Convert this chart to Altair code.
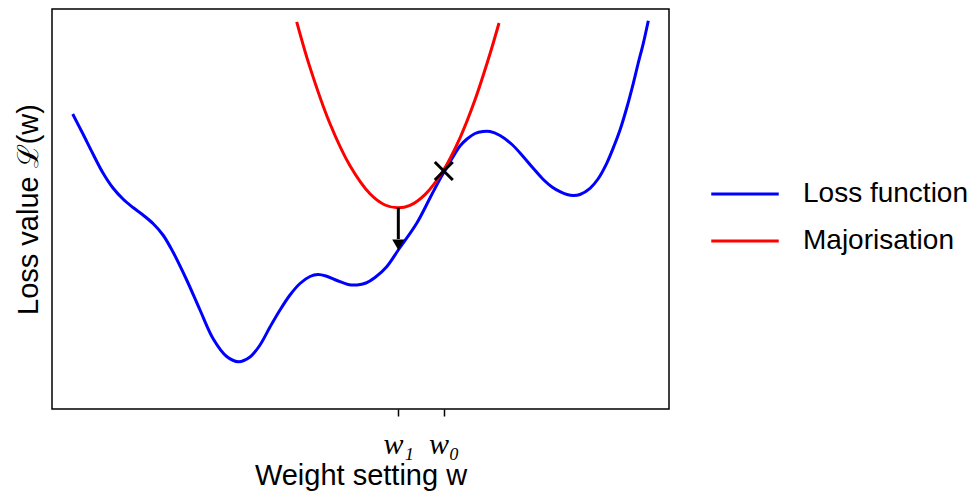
import altair as alt
import pandas as pd

# Loss function (blue)
LOSS_X = [0.3355, 0.5024, 0.6645, 0.8266, 0.9887, 1.1507, 1.3128, 1.4749, 1.6370, 1.7990,
          1.9611, 2.1831, 2.3987, 2.6143, 2.8314, 3.0194, 3.2091, 3.3712, 3.5332, 3.6953,
          3.8574, 4.0194, 4.1815, 4.3112, 4.4408, 4.6191, 4.7974, 4.9433, 5.0891, 5.2350,
          5.4246, 5.6126, 5.9109, 6.1264, 6.2885, 6.3695, 6.4830, 6.6126, 6.7261, 6.8558,
          6.9854, 7.0989, 7.2609, 7.4554, 7.6386, 7.7958, 7.9627, 8.1037, 8.2334, 8.3468,
          8.4489, 8.5575, 8.7196, 8.8493, 8.9903, 9.1086, 9.2058, 9.3193, 9.4214, 9.4976,
          9.5835, 9.6645]
LOSS_Y = [7.375, 6.875, 6.375, 5.90, 5.525, 5.25, 5.0375, 4.85, 4.6375, 4.35,
          3.925, 3.225, 2.475, 1.75, 1.3125, 1.1825, 1.30, 1.60, 2.05, 2.475,
          2.85, 3.1375, 3.3125, 3.3625, 3.325, 3.2125, 3.1125, 3.10, 3.15, 3.2875,
          3.5575, 3.975, 4.6425, 5.275, 5.75, 5.9625, 6.2625, 6.575, 6.75, 6.8875,
          6.9375, 6.9375, 6.8375, 6.6125, 6.3075, 6.025, 5.7375, 5.55, 5.4325, 5.3625,
          5.3375, 5.3625, 5.5175, 5.75, 6.1425, 6.575, 6.975, 7.55, 8.1425, 8.625,
          9.1425, 9.7075]

# Majorisation (red)
MAJ_X = [3.966, 4.181, 4.506, 4.830, 5.154, 5.397, 5.608, 5.802, 6.045, 6.337,
         6.613, 6.856, 7.099, 7.245]
MAJ_Y = [9.68, 8.54, 7.13, 6.08, 5.38, 5.10, 5.03, 5.09, 5.36, 5.95,
         6.78, 7.73, 8.88, 9.65]

SERIES = ["Loss function", "Majorisation"]
COLORS = ["#0000ff", "#ff0000"]

W1 = 5.613
W0 = 6.35
TICK_VALUES = [W1, W0]
TICK_LABELS = ["w\u2081", "w\u2080"]

# arrow from majoriser minimum down to loss at w1
ARROW_Y_START = [5.03]
ARROW_Y_SHAFT_END = [4.25]
ARROW_Y_HEAD = [4.108]
# cross at w0
CROSS_Y = [5.95]

df_lines = pd.DataFrame(
    {"x": LOSS_X + MAJ_X,
     "y": LOSS_Y + MAJ_Y,
     "series": [SERIES[0]] * len(LOSS_X) + [SERIES[1]] * len(MAJ_X)}
)
df_arrow = pd.DataFrame({"x": [W1], "y": ARROW_Y_START, "y2": ARROW_Y_SHAFT_END,
                         "yh": ARROW_Y_HEAD})
df_cross = pd.DataFrame({"x": [W0], "y": CROSS_Y})

SANS = "Liberation Sans"
SERIF = "Liberation Serif"

xscale = alt.Scale(domain=[0, 10], nice=False, zero=False)
yscale = alt.Scale(domain=[0, 10], nice=False, zero=False)

label_expr = (f"datum.value < {(W1 + W0) / 2} ? '{TICK_LABELS[0]}' : '{TICK_LABELS[1]}'")

x_axis = alt.Axis(
    title="Weight setting w", values=TICK_VALUES, labelExpr=label_expr,
    grid=False, domain=False, ticks=True, tickSize=7, tickWidth=1.5,
    tickColor="black", labelFont=SERIF, labelFontStyle="italic",
    labelFontSize=30, labelColor="black", labelBaseline="alphabetic",
    labelPadding=37, labelFlush=False, labelOverlap=False,
    titleFont=SANS, titleFontSize=29, titleFontWeight="normal",
    titleColor="black", titleBaseline="alphabetic", titleY=75,
)
y_axis = alt.Axis(
    title="Loss value \u2112(w)", grid=False, domain=False, ticks=False,
    labels=False, titleFont=SANS, titleFontSize=29, titleFontWeight="normal",
    titleColor="black", titleAngle=270, titleBaseline="alphabetic",
    titleAlign="center", titleX=-15, titleY=200,
)

lines = alt.Chart(df_lines).mark_line(strokeWidth=3, interpolate="catmull-rom").encode(
    x=alt.X("x:Q", scale=xscale, axis=x_axis),
    y=alt.Y("y:Q", scale=yscale, axis=y_axis),
    color=alt.Color(
        "series:N",
        scale=alt.Scale(domain=SERIES, range=COLORS),
        legend=alt.Legend(
            title=None, orient="none", legendX=678, legendY=170,
            symbolType="M-2.5,0L2.5,0", symbolSize=729, symbolStrokeWidth=3,
            labelFont=SANS, labelFontSize=28, labelColor="black",
            labelOffset=43, labelLimit=0, rowPadding=18, padding=0,
        ),
    ),
)

shaft = alt.Chart(df_arrow).mark_rule(color="black", strokeWidth=3).encode(
    x="x:Q", y="y:Q", y2="y2:Q"
)
head = alt.Chart(df_arrow).mark_point(
    shape="triangle-down", filled=True, color="black", size=150, opacity=1
).encode(x="x:Q", y="yh:Q")

cross = alt.Chart(df_cross).mark_point(
    shape="M-1,-1L1,1M-1,1L1,-1", filled=False, color="black", size=324,
    strokeWidth=3, opacity=1
).encode(x="x:Q", y="y:Q")

chart = alt.layer(lines, shaft, head, cross).properties(
    width=617, height=400,
    autosize=alt.AutoSizeParams(type="none"),
    padding={"left": 52, "top": 9, "right": 307, "bottom": 83},
).configure(background="white").configure_view(stroke="black", strokeWidth=1.5)

chart.save("out.html", embed_options={"renderer": "svg", "actions": False})
